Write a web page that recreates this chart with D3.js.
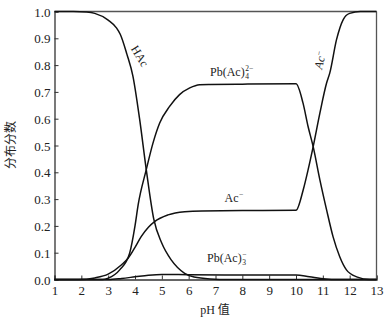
<!DOCTYPE html>
<html><head><meta charset="utf-8">
<script src="https://cdn.jsdelivr.net/npm/d3@7"></script>
<style>
body{margin:0;background:#fff;}
text{font-family:"Liberation Serif","DejaVu Serif",serif;fill:#222;}
.cjk{font-family:"Noto Sans CJK SC",sans-serif;}
</style></head>
<body><svg id="c" width="389" height="321"></svg>
<script>
// ---- data ----
const hacPH   = [1, 1.7, 2.2, 2.5, 3.0, 3.3, 3.45, 3.7, 3.92, 4.17, 4.42, 4.7, 5.0, 5.35, 5.85, 6.2, 6.8, 7.5, 13];
const hacVal  = [1, 1, 0.998, 0.993, 0.968, 0.94, 0.915, 0.84, 0.76, 0.60, 0.41, 0.225, 0.135, 0.073, 0.023, 0.009, 0.002, 0, 0];

const pb4PH   = [1, 2.8, 3.0, 3.43, 3.8, 4.0, 4.12, 4.42, 4.67, 4.92, 5.29, 5.66, 6.04, 6.41, 6.8, 8, 10.0, 10.26, 10.45, 10.64, 10.89, 11.14, 11.38, 11.63, 11.88, 12.26, 12.75, 13];
const pb4Val  = [0, 0, 0.005, 0.036, 0.098, 0.2, 0.28, 0.41, 0.509, 0.584, 0.646, 0.69, 0.715, 0.727, 0.728, 0.729, 0.73, 0.659, 0.571, 0.496, 0.372, 0.26, 0.16, 0.085, 0.036, 0.01, 0, 0];

const acPH    = [1, 1.9, 2.5, 3.0, 3.5, 3.75, 4.0, 4.23, 4.5, 4.73, 5.23, 5.85, 6.5, 8, 10.0, 10.27, 10.45, 10.64, 10.89, 11.14, 11.26, 11.51, 11.76, 12.0, 12.4, 13];
const acVal   = [0, 0, 0.006, 0.02, 0.055, 0.08, 0.12, 0.16, 0.195, 0.216, 0.241, 0.253, 0.256, 0.257, 0.258, 0.335, 0.409, 0.496, 0.621, 0.733, 0.771, 0.895, 0.97, 0.993, 1, 1];

const pb3PH   = [1, 3.0, 3.5, 4.0, 4.5, 5.0, 6.0, 8, 10.0, 10.5, 11.1, 11.5, 13];
const pb3Val  = [0, 0, 0.004, 0.01, 0.016, 0.019, 0.018, 0.017, 0.017, 0.01, 0.002, 0, 0];

const xTicks = [1,2,3,4,5,6,7,8,9,10,11,12,13];
const yTicks = [0,0.1,0.2,0.3,0.4,0.5,0.6,0.7,0.8,0.9,1.0];

// ---- layout ----
const svg = d3.select("#c");
const L = 54.5, R = 376.5, T = 11.5, B = 279.5;
const x = d3.scaleLinear().domain([1,13]).range([L,R]);
const y = d3.scaleLinear().domain([0,1]).range([B,T]);

// axes (ticks inward)
const ax = svg.append("g").attr("transform",`translate(0,${B})`)
  .call(d3.axisBottom(x).tickValues(xTicks).tickSize(-4).tickPadding(6).tickFormat(d3.format("d")));
const ay = svg.append("g").attr("transform",`translate(${L},0)`)
  .call(d3.axisLeft(y).tickValues(yTicks).tickSize(-4).tickPadding(4).tickFormat(d3.format(".1f")));
[ax,ay].forEach(g=>{
  g.attr("font-family","Liberation Serif").attr("font-size",13);
  g.select(".domain").attr("stroke","#333").attr("stroke-width",1.3);
  g.selectAll(".tick line").attr("stroke","#333").attr("stroke-width",1);
  g.selectAll(".tick text").attr("fill","#222");
});
ay.selectAll(".tick text").attr("dy","0.35em");
// top & right frame
svg.append("line").attr("x1",L).attr("x2",R).attr("y1",T).attr("y2",T).attr("stroke","#555").attr("stroke-width",1.5);
svg.append("line").attr("x1",R).attr("x2",R).attr("y1",T).attr("y2",B).attr("stroke","#555").attr("stroke-width",1.3);

// curves
const line = d3.line().x(d=>x(d[0])).y(d=>y(d[1])).curve(d3.curveMonotoneX);
const series = [[hacPH,hacVal],[pb4PH,pb4Val],[acPH,acVal],[pb3PH,pb3Val]];
series.forEach(([p,v])=>{
  svg.append("path").datum(p.map((d,i)=>[d,v[i]])).attr("d",line)
    .attr("fill","none").attr("stroke","#111").attr("stroke-width",1.5).attr("stroke-linejoin","round");
});

// labels
svg.append("text").attr("transform","translate(140,56) rotate(59)").attr("text-anchor","middle")
  .attr("dy","0.35em").style("font-size","12px").text("HAc");

function chem(xs, ys, base, sub, sup){
  const t = svg.append("text").attr("x",xs).attr("y",ys).style("font-size","12px").text(base);
  const w = t.node().getComputedTextLength();
  if(sub) svg.append("text").attr("x",xs+w+0.5).attr("y",ys+2.5).style("font-size","7.5px").text(sub);
  if(sup) svg.append("text").attr("x",xs+w+0.5).attr("y",ys-5).style("font-size","7.5px").text(sup);
}
chem(210, 76, "Pb(Ac)", "4", "2−");
chem(224.5, 202, "Ac", null, "−");
chem(207, 262, "Pb(Ac)", "3", "−");

const g2 = svg.append("g").attr("transform","translate(320,60) rotate(-77)");
g2.append("text").attr("text-anchor","middle").attr("dy","0.35em").style("font-size","12px")
  .style("font-style","italic").html("Ac<tspan dy='-4' font-size='8px'>−</tspan>");

// axis titles
svg.append("text").attr("class","cjk").attr("transform","translate(11,145) rotate(-90)")
  .attr("text-anchor","middle").attr("dy","0.35em").style("font-size","12px").text("分布分数");
const xt = svg.append("text").attr("x",215).attr("y",314).attr("text-anchor","middle").style("font-size","12px");
xt.append("tspan").text("pH ");
xt.append("tspan").attr("class","cjk").style("font-family","'Noto Sans CJK SC',sans-serif").text("值");
</script></body></html>
